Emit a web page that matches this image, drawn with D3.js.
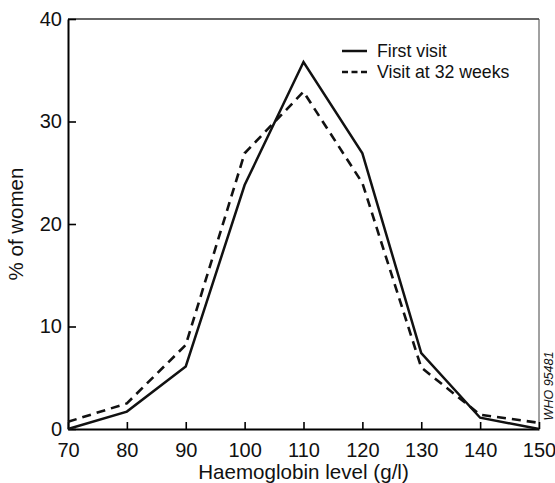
<!DOCTYPE html>
<html>
<head>
<meta charset="utf-8">
<script src="https://cdn.jsdelivr.net/npm/d3@7"></script>
<style>
  body { margin: 0; background: #fff; }
  svg { display: block; font-family: 'Liberation Sans', Arial, sans-serif; }
</style>
</head>
<body>
<svg id="chart" width="555" height="483"></svg>
<script>
// haemoglobin level classes (g/l)
const levels = [70, 80, 90, 100, 110, 120, 130, 140, 150];
// % of women per class
const firstVisit = [0, 1.7, 6.1, 23.8, 35.8, 26.9, 7.4, 1.1, 0];
const visit32 = [0.7, 2.5, 8.2, 26.9, 32.9, 24.0, 6.0, 1.4, 0.6];

const xTicks = [70, 80, 90, 100, 110, 120, 130, 140, 150];
const yTicks = [0, 10, 20, 30, 40];

const seriesNames = ['First visit', 'Visit at 32 weeks'];

const margin = { top: 19, right: 16, bottom: 54, left: 68 };
const width = 555 - margin.left - margin.right;
const height = 483 - margin.top - margin.bottom;

const svg = d3.select('#chart');
const chart = svg.append('g')
  .attr('transform', `translate(${margin.left}, ${margin.top})`);

const xScale = d3.scaleLinear().domain([70, 150]).range([0, width]);
const yScale = d3.scaleLinear().domain([0, 40]).range([height, 0]);

// frame: thin top and right edges
chart.append('line')
  .attr('x1', 0).attr('x2', width).attr('y1', 0).attr('y2', 0)
  .attr('stroke', '#333').attr('stroke-width', 1.4);
chart.append('line')
  .attr('x1', width).attr('x2', width).attr('y1', 0).attr('y2', height)
  .attr('stroke', '#444').attr('stroke-width', 1);

const xAxis = chart.append('g')
  .attr('transform', `translate(0, ${height})`)
  .call(d3.axisBottom(xScale).tickValues(xTicks).tickSize(-7).tickPadding(14).tickSizeOuter(0));
xAxis.select('.domain').attr('stroke-width', 2.2);
xAxis.selectAll('line').attr('stroke-width', 1.6);
xAxis.selectAll('text').style('font-size', '20px').style('fill', '#111');

const yAxis = chart.append('g')
  .call(d3.axisLeft(yScale).tickValues(yTicks).tickSize(-8).tickPadding(6).tickSizeOuter(0));
yAxis.select('.domain').attr('stroke-width', 2);
yAxis.selectAll('line').attr('stroke-width', 1.6);
yAxis.selectAll('text').style('font-size', '20px').style('fill', '#111');

const line = d3.line()
  .x((d) => xScale(d[0]))
  .y((d) => yScale(d[1]));

chart.append('path')
  .datum(d3.zip(levels, visit32))
  .attr('d', line)
  .attr('fill', 'none')
  .attr('stroke', '#111')
  .attr('stroke-width', 2.6)
  .attr('stroke-dasharray', '9,6');

chart.append('path')
  .datum(d3.zip(levels, firstVisit))
  .attr('d', line)
  .attr('fill', 'none')
  .attr('stroke', '#111')
  .attr('stroke-width', 2.5);

// legend
const legend = svg.append('g').attr('transform', 'translate(342, 51)');
seriesNames.forEach((name, i) => {
  const row = legend.append('g').attr('transform', `translate(0, ${i * 21})`);
  row.append('line')
    .attr('x1', 0).attr('x2', 25)
    .attr('stroke', '#111')
    .attr('stroke-width', 2.5)
    .attr('stroke-dasharray', i === 1 ? '6,3.5' : null);
  row.append('text')
    .attr('x', 35)
    .attr('dy', '0.35em')
    .style('font-size', '17.7px')
    .style('fill', '#111')
    .text(name);
});

svg.append('text')
  .attr('x', margin.left + width / 2)
  .attr('y', 479)
  .attr('text-anchor', 'middle')
  .style('font-size', '20.6px')
  .style('fill', '#111')
  .text('Haemoglobin level (g/l)');

svg.append('text')
  .attr('transform', `translate(23, ${margin.top + height / 2}) rotate(-90)`)
  .attr('text-anchor', 'middle')
  .style('font-size', '20.5px')
  .style('fill', '#111')
  .text('% of women');

svg.append('text')
  .attr('transform', 'translate(553, 386) rotate(-90)')
  .attr('text-anchor', 'middle')
  .style('font-size', '12.5px')
  .style('font-style', 'italic')
  .style('fill', '#111')
  .text('WHO 95481');
</script>
</body>
</html>
